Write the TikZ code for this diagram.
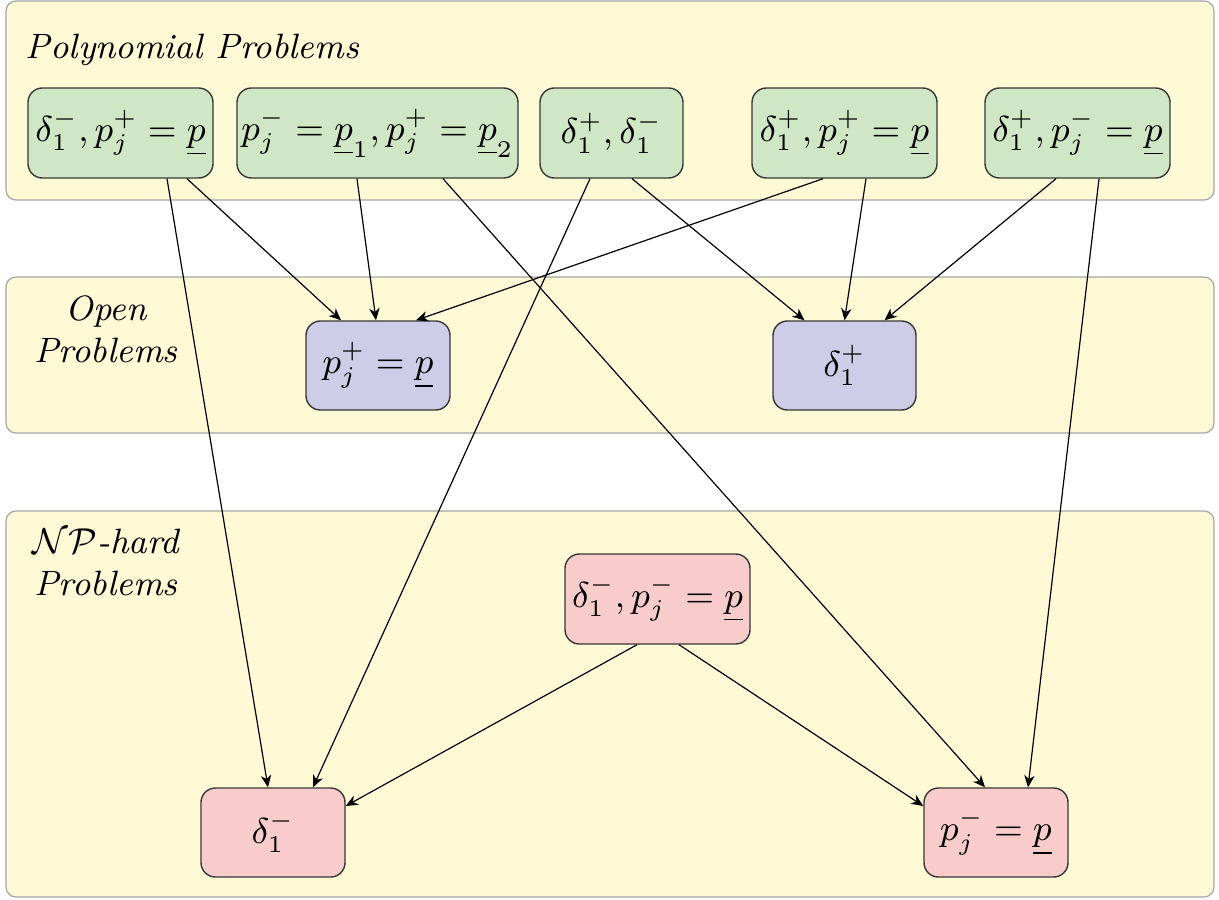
\documentclass[tikz,border=0pt]{standalone}
\usetikzlibrary{calc,arrows.meta}
\definecolor{bandfill}{RGB}{255,250,214}
\definecolor{bandline}{RGB}{165,165,165}
\definecolor{polyfill}{RGB}{208,231,198}
\definecolor{openfill}{RGB}{206,204,230}
\definecolor{hardfill}{RGB}{249,204,204}
\definecolor{nodeline}{RGB}{55,55,55}
\begin{document}
\begin{tikzpicture}[x=0.25pt,y=-0.25pt,
  band/.style={draw=bandline,fill=bandfill,line width=0.3pt,rounded corners=2.5pt},
  prob/.style={draw=nodeline,line width=0.35pt,rounded corners=3.6pt,inner sep=0pt,
     minimum height=22.5pt,font=\fontsize{8.6}{10.5}\selectfont},
  poly/.style={prob,fill=polyfill},
  open/.style={prob,fill=openfill},
  hard/.style={prob,fill=hardfill},
  lbl/.style={font=\fontsize{8.8}{10.5}\selectfont\itshape,inner sep=0pt,align=center},
  arr/.style={-{Stealth[length=3pt,width=2.6pt,inset=0.9pt]},line width=0.3pt}]
\useasboundingbox (0,0) rectangle (1219,899);
% bands
\path[band] (6,1) rectangle (1214,200);
\path[band] (6,277) rectangle (1214,433);
\path[band] (6,511) rectangle (1214,897);
% labels
\node[lbl,anchor=base west] (lpoly) at (25,58) {Polynomial Problems};
\node[lbl] (lopen) at (106,329) {Open\\Problems};
\node[lbl] (lhard) at (106,562) {$\mathcal{NP}$-hard\\Problems};
% nodes
\node[poly,minimum width=46.25pt] (A) at (120.5,133) {$\delta_1^-, p_j^+ = \underline{p}$};
\node[poly,minimum width=70.25pt] (B) at (377.5,133) {$p_j^- = \underline{p}_1, p_j^+ = \underline{p}_2$};
\node[poly,minimum width=35.75pt] (C) at (611.5,133) {$\delta_1^+, \delta_1^-$};
\node[poly,minimum width=46.25pt] (D) at (844.5,133) {$\delta_1^+, p_j^+ = \underline{p}$};
\node[poly,minimum width=46.25pt] (E) at (1077.5,133) {$\delta_1^+, p_j^- = \underline{p}$};
\node[open,minimum width=36pt,minimum height=22.25pt] (F) at (378,365.5) {$p_j^+ = \underline{p}$};
\node[open,minimum width=35.75pt,minimum height=22.25pt] (G) at (844.5,365.5) {$\delta_1^+$};
\node[hard,minimum width=46.25pt] (H) at (657.5,599) {$\delta_1^-, p_j^- = \underline{p}$};
\node[hard,minimum width=36pt,minimum height=22.25pt] (I) at (273,832.5) {$\delta_1^-$};
\node[hard,minimum width=36pt,minimum height=22.25pt] (J) at (996,832.5) {$p_j^- = \underline{p}$};
% edges
\draw[arr] ($(A.south)+(46.5,0)$) -- ($(I.north)+(-5,0)$);
\draw[arr] ($(A.south)+(66.5,0)$) -- ($(F.north)+(-37,0)$);
\draw[arr] ($(B.south)+(-20.5,0)$) -- ($(F.north)+(-2,0)$);
\draw[arr] ($(B.south)+(65.5,0)$) -- ($(J.north)+(-11,0)$);
\draw[arr] ($(C.south)+(-21.5,0)$) -- ($(I.north)+(40,0)$);
\draw[arr] ($(C.south)+(20.5,0)$) -- ($(G.north)+(-40,0)$);
\draw[arr] ($(D.south)+(-21.5,0)$) -- ($(F.north)+(38,0)$);
\draw[arr] ($(D.south)+(21.5,0)$) -- ($(G.north)+(0,0)$);
\draw[arr] ($(E.south)+(-21.5,0)$) -- ($(G.north)+(40,0)$);
\draw[arr] ($(E.south)+(21.5,0)$) -- ($(J.north)+(32,0)$);
\draw[arr] ($(H.south)+(-20.5,0)$) -- ($(I.east)+(0,-26.5)$);
\draw[arr] ($(H.south)+(21.5,0)$) -- ($(J.west)+(0,-26.5)$);
\end{tikzpicture}
\end{document}
